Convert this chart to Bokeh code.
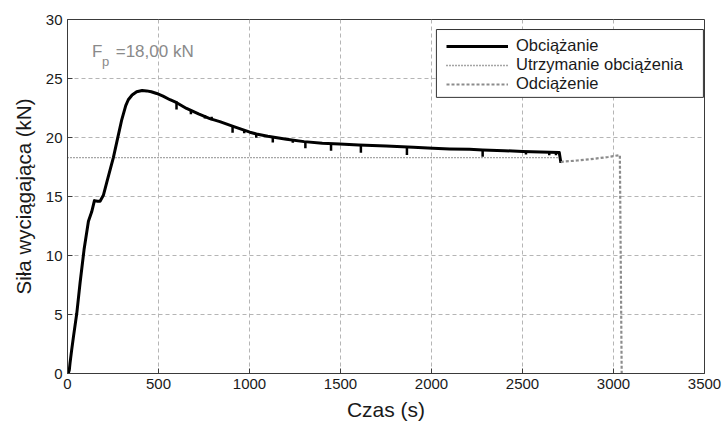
from bokeh.plotting import figure
from bokeh.models import (Range1d, FixedTicker, Legend, LegendItem, Label,
                          ColumnDataSource, BoxAnnotation)
from bokeh.embed import file_html
from bokeh.resources import INLINE

# Loading phase: time (s) and pull-out force (kN)
load_t = [0, 6, 10, 14, 23, 33, 51, 69, 91, 115, 133, 148, 165, 179, 197, 215, 234,
          252, 275, 298, 320, 334, 355, 380, 410, 435, 460, 490, 525, 563, 600, 654,
          720, 782, 837, 910, 1002, 1038, 1100, 1203, 1300, 1400, 1495, 1600, 1751,
          1900, 2007, 2100, 2208, 2281, 2400, 2501, 2600, 2702, 2711]
load_F = [0.0, 0.1, 0.3, 0.9, 2.0, 3.15, 5.1, 7.67, 10.5, 12.9, 13.7, 14.65, 14.6,
          14.6, 15.1, 16.15, 17.25, 18.3, 19.9, 21.5, 22.7, 23.2, 23.6, 23.87, 23.98,
          23.95, 23.88, 23.73, 23.5, 23.2, 22.95, 22.46, 22.0, 21.6, 21.35, 20.95,
          20.45, 20.3, 20.1, 19.85, 19.65, 19.52, 19.44, 19.36, 19.27, 19.17, 19.08,
          19.03, 19.0, 18.95, 18.88, 18.82, 18.78, 18.72, 17.85]

# Short force drops recorded during loading (time, force before, force after)
drop_t = [599, 678, 755, 792, 907, 971, 1037, 1128, 1238, 1307, 1448, 1612, 1865,
          2281, 2519, 2647, 2684]
drop_top = [23.05, 22.32, 21.89, 21.75, 20.95, 20.6, 20.35, 20.05, 19.8, 19.64,
            19.45, 19.33, 19.18, 18.95, 18.82, 18.76, 18.74]
drop_low = [22.37, 21.98, 21.6, 21.47, 20.4, 20.35, 19.98, 19.58, 19.55, 19.08,
            18.88, 18.71, 18.51, 18.37, 18.55, 18.5, 18.5]

# Load holding level
hold_t = [0, 2711]
hold_F = [18.3, 18.3]

# Unloading phase
unload_t = [2711, 2720, 2760, 2800, 2867, 2920, 2970, 3010, 3035, 3045]
unload_F = [17.9, 17.95, 18.0, 18.05, 18.15, 18.25, 18.35, 18.45, 18.5, 0.0]

x_ticks = [0, 500, 1000, 1500, 2000, 2500, 3000, 3500]
y_ticks = [0, 5, 10, 15, 20, 25, 30]

FONT = "Liberation Sans"
AXIS_COL = "#3a3a3a"
TEXT_COL = "#1a1a1a"

p = figure(width=724, height=423, output_backend="svg", toolbar_location=None,
           x_range=Range1d(0, 3500), y_range=Range1d(0, 30),
           min_border_left=67, min_border_right=20, min_border_top=19,
           min_border_bottom=49)
p.background_fill_color = "white"
p.border_fill_color = "white"
p.outline_line_color = AXIS_COL
p.outline_line_width = 1

for ax in (p.xaxis[0], p.yaxis[0]):
    ax.major_tick_in = 5
    ax.major_tick_out = 0
    ax.minor_tick_line_color = None
    ax.axis_line_color = AXIS_COL
    ax.major_tick_line_color = AXIS_COL
    ax.major_label_text_font = FONT
    ax.major_label_text_font_size = "15px"
    ax.major_label_text_color = TEXT_COL
    ax.axis_label_text_font = FONT
    ax.axis_label_text_font_style = "normal"
    ax.axis_label_text_color = TEXT_COL
    ax.major_label_standoff = 5

p.xaxis[0].ticker = FixedTicker(ticks=x_ticks)
p.yaxis[0].ticker = FixedTicker(ticks=y_ticks)
p.xaxis[0].axis_label = "Czas (s)"
p.yaxis[0].axis_label = "Siła wyciągająca (kN)"
p.xaxis[0].axis_label_text_font_size = "21px"
p.yaxis[0].axis_label_text_font_size = "20.5px"
p.xaxis[0].axis_label_standoff = 6
p.yaxis[0].axis_label_standoff = 8

p.xgrid.grid_line_color = "#b5b5b5"
p.ygrid.grid_line_color = "#b5b5b5"
p.xgrid.grid_line_dash = "4 3"
p.ygrid.grid_line_dash = "4 3"
p.xgrid.ticker = FixedTicker(ticks=x_ticks)
p.ygrid.ticker = FixedTicker(ticks=y_ticks)

r_hold = p.line(hold_t, hold_F, line_color="#4d4d4d", line_width=1.3, line_dash="1 2")
r_load = p.line(load_t, load_F, line_color="black", line_width=3, line_join="round")
drops = ColumnDataSource(dict(x=drop_t, y0=drop_top, y1=drop_low))
p.segment(x0="x", y0="y0", x1="x", y1="y1", source=drops, line_color="black",
          line_width=2.5)
r_unload = p.line(unload_t, unload_F, line_color="#8c8c8c", line_width=2.2,
                  line_dash="3 2")

# Legend frame, a little wider than the entries themselves
p.add_layout(BoxAnnotation(left=2027, right=3494, bottom=23.4, top=29.15,
                           fill_color="white", fill_alpha=1,
                           line_color="#333333", line_width=1, line_alpha=1))

legend = Legend(items=[LegendItem(label="Obciążanie", renderers=[r_load]),
                       LegendItem(label="Utrzymanie obciążenia", renderers=[r_hold]),
                       LegendItem(label="Odciążenie", renderers=[r_unload])],
                location=(379, 280), orientation="vertical",
                label_text_font=FONT, label_text_font_size="16.5px",
                label_text_color=TEXT_COL,
                glyph_width=62, glyph_height=16, label_height=16, label_standoff=8,
                spacing=0, padding=7, margin=0,
                border_line_color=None, background_fill_alpha=0)
p.add_layout(legend)

# Preload annotation
p.add_layout(Label(x=135, y=26.45, text="F", text_font=FONT, text_font_size="17px",
                   text_color="#8a8a8a"))
p.add_layout(Label(x=190, y=25.8, text="p", text_font=FONT, text_font_size="13px",
                   text_color="#8a8a8a"))
p.add_layout(Label(x=265, y=26.45, text="=18,00 kN", text_font=FONT,
                   text_font_size="17px", text_color="#8a8a8a"))

open("out.html", "w").write(file_html(p, INLINE))
